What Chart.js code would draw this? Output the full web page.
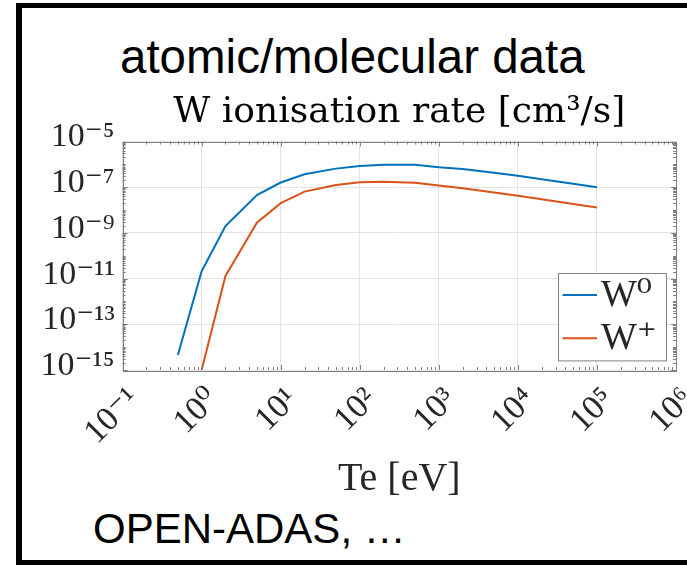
<!DOCTYPE html>
<html>
<head>
<meta charset="utf-8">
<script src="https://cdn.jsdelivr.net/npm/chart.js@4.4.1/dist/chart.umd.min.js"></script>
<style>
  html, body { margin: 0; padding: 0; width: 687px; height: 566px; overflow: hidden; background: #fff; }
  #frame { position: absolute; left: 16px; top: 3px; width: 720px; height: 552px;
           border-left: 6px solid #000; border-top: 5px solid #000; border-bottom: 5px solid #000; }
  .slide { position: absolute; font-family: "Liberation Sans", Arial, sans-serif; color: #000;
           white-space: nowrap; line-height: 1; }
  #head { left: 120px; top: 33px; font-size: 47.5px; }
  #foot { left: 93px; top: 508px; font-size: 42px; }
  #chart { position: absolute; left: 0; top: 0; }
</style>
</head>
<body>
<div id="frame"></div>
<div class="slide" id="head">atomic/molecular data</div>
<div class="slide" id="foot">OPEN-ADAS, …</div>
<canvas id="chart" width="687" height="566"></canvas>
<script>
// ---- data ----
const teValues   = [0.5, 1, 2, 5, 10, 20, 50, 100, 200, 500, 1000, 2000, 5000, 10000, 20000, 50000, 100000];
const w0Rates    = [4.5e-15, 2.1e-11, 2.0e-9, 4.5e-8, 1.6e-7, 3.7e-7, 6.5e-7, 8.5e-7, 9.7e-7, 9.5e-7, 7.5e-7, 6.3e-7, 4.3e-7, 3.2e-7, 2.25e-7, 1.4e-7, 1.0e-7];
const wPlusRates = [null, 1.0e-15, 1.3e-11, 2.8e-9, 2.0e-8, 6.4e-8, 1.26e-7, 1.65e-7, 1.75e-7, 1.55e-7, 1.18e-7, 9.0e-8, 5.9e-8, 4.2e-8, 2.95e-8, 1.85e-8, 1.3e-8];
const seriesNames = ['W⁰', 'W⁺'];
const chartTitle = 'W ionisation rate [cm³/s]';
const xAxisTitle = 'Te [eV]';
const xTickValues = [1e-1, 1e0, 1e1, 1e2, 1e3, 1e4, 1e5, 1e6];
const xTickLabels = ['10⁻¹', '10⁰', '10¹', '10²', '10³', '10⁴', '10⁵', '10⁶'];
const yTickValues = [1e-15, 1e-13, 1e-11, 1e-9, 1e-7, 1e-5];
const yTickLabels = ['10⁻¹⁵', '10⁻¹³', '10⁻¹¹', '10⁻⁹', '10⁻⁷', '10⁻⁵'];

const SERIF = '"Liberation Serif", "DejaVu Serif", serif';
const AXIS_COLOR = '#808080';
const TEXT_COLOR = '#262626';

// MATLAB-like box with inward minor ticks, title centred over the axes, inner legend
const boxPlugin = {
  id: 'matlabBox',
  afterLayout(chart) {
    const t = chart.titleBlock, a = chart.chartArea;
    if (t && a) { t.left = a.left; t.right = a.right; t.width = a.right - a.left; }
  },
  afterDatasetsDraw(chart) {
    const {ctx, chartArea: a, scales} = chart;
    ctx.save();
    ctx.strokeStyle = AXIS_COLOR;
    ctx.lineWidth = 1;
    ctx.beginPath();
    const xs = scales.x, ys = scales.y;
    const xDecLo = Math.round(Math.log10(xs.min)), xDecHi = Math.round(Math.log10(xs.max));
    for (let d = xDecLo; d <= xDecHi; d++) {
      for (let k = 1; k <= 9; k++) {
        const v = k * Math.pow(10, d);
        if (v > xs.max * 1.0001) break;
        const px = Math.round(xs.getPixelForValue(v)) + 0.5;
        const len = k === 1 ? 5 : 3;
        ctx.moveTo(px, a.bottom); ctx.lineTo(px, a.bottom - len);
        ctx.moveTo(px, a.top); ctx.lineTo(px, a.top + len);
      }
    }
    const yDecLo = Math.round(Math.log10(ys.min)), yDecHi = Math.round(Math.log10(ys.max));
    for (let d = yDecLo; d <= yDecHi; d++) {
      for (let k = 1; k <= 9; k++) {
        const v = k * Math.pow(10, d);
        if (v > ys.max * 1.0001) break;
        const py = Math.round(ys.getPixelForValue(v)) + 0.5;
        const len = (k === 1 && (d - yDecLo) % 2 === 0) ? 5 : 3;
        ctx.moveTo(a.left, py); ctx.lineTo(a.left + len, py);
        ctx.moveTo(a.right, py); ctx.lineTo(a.right - len, py);
      }
    }
    ctx.stroke();
    ctx.strokeRect(Math.round(a.left) + 0.5, Math.round(a.top) + 0.5,
                   Math.round(a.right - a.left), Math.round(a.bottom - a.top));
    ctx.restore();
  },
  afterDraw(chart) {
    const {ctx, chartArea: a} = chart;
    const sets = chart.data.datasets;
    const boxW = 108, rowH = 43.3, boxH = 87.4;
    const right = a.right - 10, bottom = a.bottom - 9.3;
    const left = right - boxW, top = bottom - boxH;
    ctx.save();
    ctx.fillStyle = '#fff';
    ctx.fillRect(left, top, boxW, boxH);
    ctx.strokeStyle = AXIS_COLOR;
    ctx.lineWidth = 1;
    ctx.strokeRect(Math.round(left) + 0.5, Math.round(top) + 0.5, boxW, boxH);
    ctx.font = '38px ' + SERIF;
    ctx.textBaseline = 'middle';
    ctx.textAlign = 'left';
    sets.forEach((ds, i) => {
      const cy = top + 21.7 + i * rowH;
      ctx.strokeStyle = ds.borderColor;
      ctx.lineWidth = 2;
      ctx.beginPath();
      ctx.moveTo(left + 4.5, cy); ctx.lineTo(left + 39, cy);
      ctx.stroke();
      ctx.fillStyle = TEXT_COLOR;
      ctx.fillText(ds.label, left + 43, cy + 1);
    });
    ctx.restore();
  }
};

new Chart(document.getElementById('chart'), {
  type: 'line',
  data: {
    datasets: [
      { label: seriesNames[0], data: teValues.map((x, i) => ({x, y: w0Rates[i]})),
        borderColor: '#0072BD', borderWidth: 2, pointRadius: 0, tension: 0, fill: false },
      { label: seriesNames[1], data: teValues.map((x, i) => ({x, y: wPlusRates[i]})),
        borderColor: '#D95319', borderWidth: 2, pointRadius: 0, tension: 0, fill: false }
    ]
  },
  options: {
    responsive: false,
    animation: false,
    devicePixelRatio: 1,
    layout: { padding: { left: 0, right: 11, top: 86.3, bottom: 63 } },
    plugins: {
      legend: { display: false },
      tooltip: { enabled: false },
      title: {
        display: true, text: chartTitle, color: '#000',
        font: { family: '"DejaVu Serif", serif', size: 36, weight: 'normal', lineHeight: 1.2 },
        padding: { top: 5, bottom: 7 }
      }
    },
    scales: {
      x: {
        type: 'logarithmic', min: 1e-1, max: 1e6,
        afterBuildTicks: s => { s.ticks = xTickValues.map(v => ({value: v})); },
        afterFit: s => { s.height = 133; s.paddingLeft = 0; s.paddingRight = 0; },
        ticks: {
          callback: (v, i) => xTickLabels[i],
          autoSkip: false, minRotation: 45, maxRotation: 45,
          font: { family: SERIF, size: 34 }, color: TEXT_COLOR, padding: 10, labelOffset: 12
        },
        grid: { color: '#e3e3e3', drawTicks: false, lineWidth: 1 },
        border: { display: false },
        title: { display: true, text: xAxisTitle, color: TEXT_COLOR,
                 font: { family: SERIF, size: 40, lineHeight: 1.2 }, padding: 0 }
      },
      y: {
        type: 'logarithmic', min: 1e-15, max: 1e-5,
        afterBuildTicks: s => { s.ticks = yTickValues.map(v => ({value: v})); },
        afterFit: s => { s.width = 122.6; s.paddingTop = 0; s.paddingBottom = 0; },
        ticks: {
          callback: (v, i) => yTickLabels[i],
          autoSkip: false,
          font: { family: SERIF, size: 34 }, color: TEXT_COLOR, padding: 8, labelOffset: -4
        },
        grid: { color: '#e3e3e3', drawTicks: false, lineWidth: 1 },
        border: { display: false }
      }
    }
  },
  plugins: [boxPlugin]
});
</script>
</body>
</html>
